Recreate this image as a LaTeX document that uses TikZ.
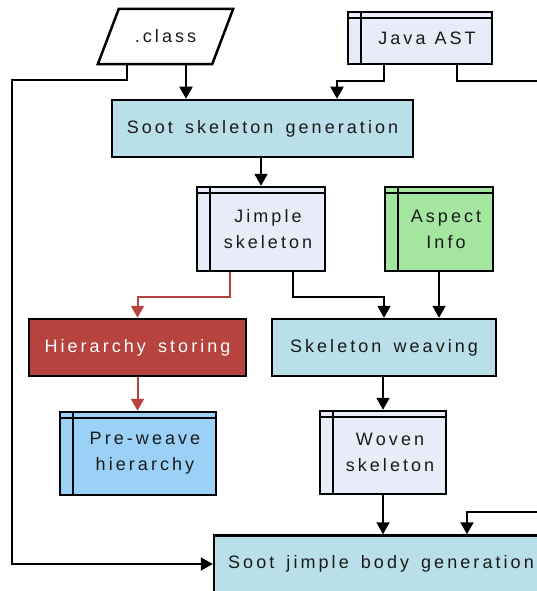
\documentclass[tikz,border=0pt]{standalone}
\usepackage{fontspec}
\newfontfamily\boxfont{Liberation Sans}[LetterSpace=17,WordSpace=1.5,Kerning=Off]
\usepackage{xcolor}
\usetikzlibrary{arrows.meta}
\definecolor{sootblue}{HTML}{B9DFE9}
\definecolor{jimplav}{HTML}{E8ECF8}
\definecolor{aspectgreen}{HTML}{A4E6A0}
\definecolor{hierred}{HTML}{B7433F}
\definecolor{prewblue}{HTML}{9BD1F7}
\definecolor{ink}{HTML}{1A1A1A}

\begin{document}
\begin{tikzpicture}[
    x=1pt, y=-1pt,
    font=\boxfont\fontsize{18}{26}\selectfont,
    boxline/.style={draw=black, line width=2.5pt, line join=miter},
    plain/.style={boxline, fill=#1, text=ink, inner sep=0pt},
    box/.style={plain=#1, align=center},
    storeline/.style={draw=black, line width=2pt},
    store/.style 2 args={plain=#1, text width=#2,
        execute at begin node={\leftskip=14pt plus 1fil
            \rightskip=0pt plus 1fil\parfillskip=0pt\relax},
        append after command={
        ([xshift=14pt]\tikzlastnode.north west) edge[storeline]
        ([xshift=14pt]\tikzlastnode.south west)
        ([yshift=-7pt]\tikzlastnode.north west) edge[storeline]
        ([yshift=-7pt]\tikzlastnode.north east)}},
    arr/.style={-{Triangle[width=13pt,length=12pt]}, line width=2pt},
    redarr/.style={arr, draw=hierred}
]
\useasboundingbox (0,0) rectangle (536,591);

%% INPUTS
\node[text=ink, minimum width=114pt, minimum height=55pt, inner sep=0pt]
    (cls) at (165.5,36.5) {.class};
\draw[boxline] ([xshift=-10.5pt]cls.south west)
    -- ([xshift=10.5pt]cls.north west) -- ([xshift=10.5pt]cls.north east)
    -- ([xshift=-10.5pt]cls.south east) -- cycle;
\node[store={jimplav}{144pt}, minimum height=52pt]
    (ast) at (420,38) {Java\hspace{9pt}AST};

%% SKELETON GENERATION
\node[box=sootblue, minimum width=301pt, minimum height=57pt]
    (sskel) at (262.5,128.5) {Soot skeleton generation};

%% SKELETON + ASPECTS
\node[store={jimplav}{128pt}, minimum height=84pt]
    (jimple) at (261,229) {Jimple\\skeleton};
\node[store={aspectgreen}{108pt}, minimum height=84pt]
    (aspect) at (439,229) {Aspect\\Info};

%% HIERARCHY / WEAVING
\node[box=hierred, text=white, minimum width=217pt, minimum height=57pt]
    (hier) at (137.5,347.5) {Hierarchy storing};
\node[box=sootblue, minimum width=224pt, minimum height=57pt]
    (weave) at (384,347.5) {Skeleton weaving};

%% RESULTS
\node[store={prewblue}{156pt}, minimum height=83pt]
    (prew) at (138,453.5) {Pre-weave\\hierarchy};
\node[store={jimplav}{126pt}, minimum height=83pt]
    (woven) at (383,452.5) {Woven\\skeleton};

%% BODY GENERATION
\node[box=sootblue, minimum width=334pt, minimum height=57pt]
    (body) at (381,564) {Soot jimple body generation};

%% ARROWS: inputs to skeleton generation
\draw[arr] ([xshift=-76.5pt]sskel.north |- cls.south)
    -- ([xshift=-76.5pt]sskel.north);
\draw[arr] ([xshift=-36pt]ast.south) -- ++(0,16)
    -| ([xshift=74.5pt]sskel.north);

%% ARROWS: inputs to body generation
\draw[arr] ([xshift=18.5pt]cls.south west) -- ++(0,16)
    -| ([xshift=-201pt]body.west) -- (body.west);
\draw[arr] ([xshift=37pt]ast.south) -- ++(0,16) -- ++(120,0)
    -- ++(0,431) -| ([xshift=86pt]body.north);

%% skeleton flow
\draw[arr] (sskel.south -| jimple.north) -- (jimple.north);
\draw[redarr] ([xshift=-31pt]jimple.south) -- ++(0,25) -| (hier.north);
\draw[arr] ([xshift=32pt]jimple.south) -- ++(0,25) -| (weave.north);
\draw[arr] (aspect.south) -- (aspect.south |- weave.north);

%% results
\draw[redarr] (hier.south) -- (hier.south |- prew.north);
\draw[arr] (weave.south -| woven.north) -- (woven.north);
\draw[arr] (woven.south) -- (woven.south |- body.north);

\end{tikzpicture}
\end{document}
